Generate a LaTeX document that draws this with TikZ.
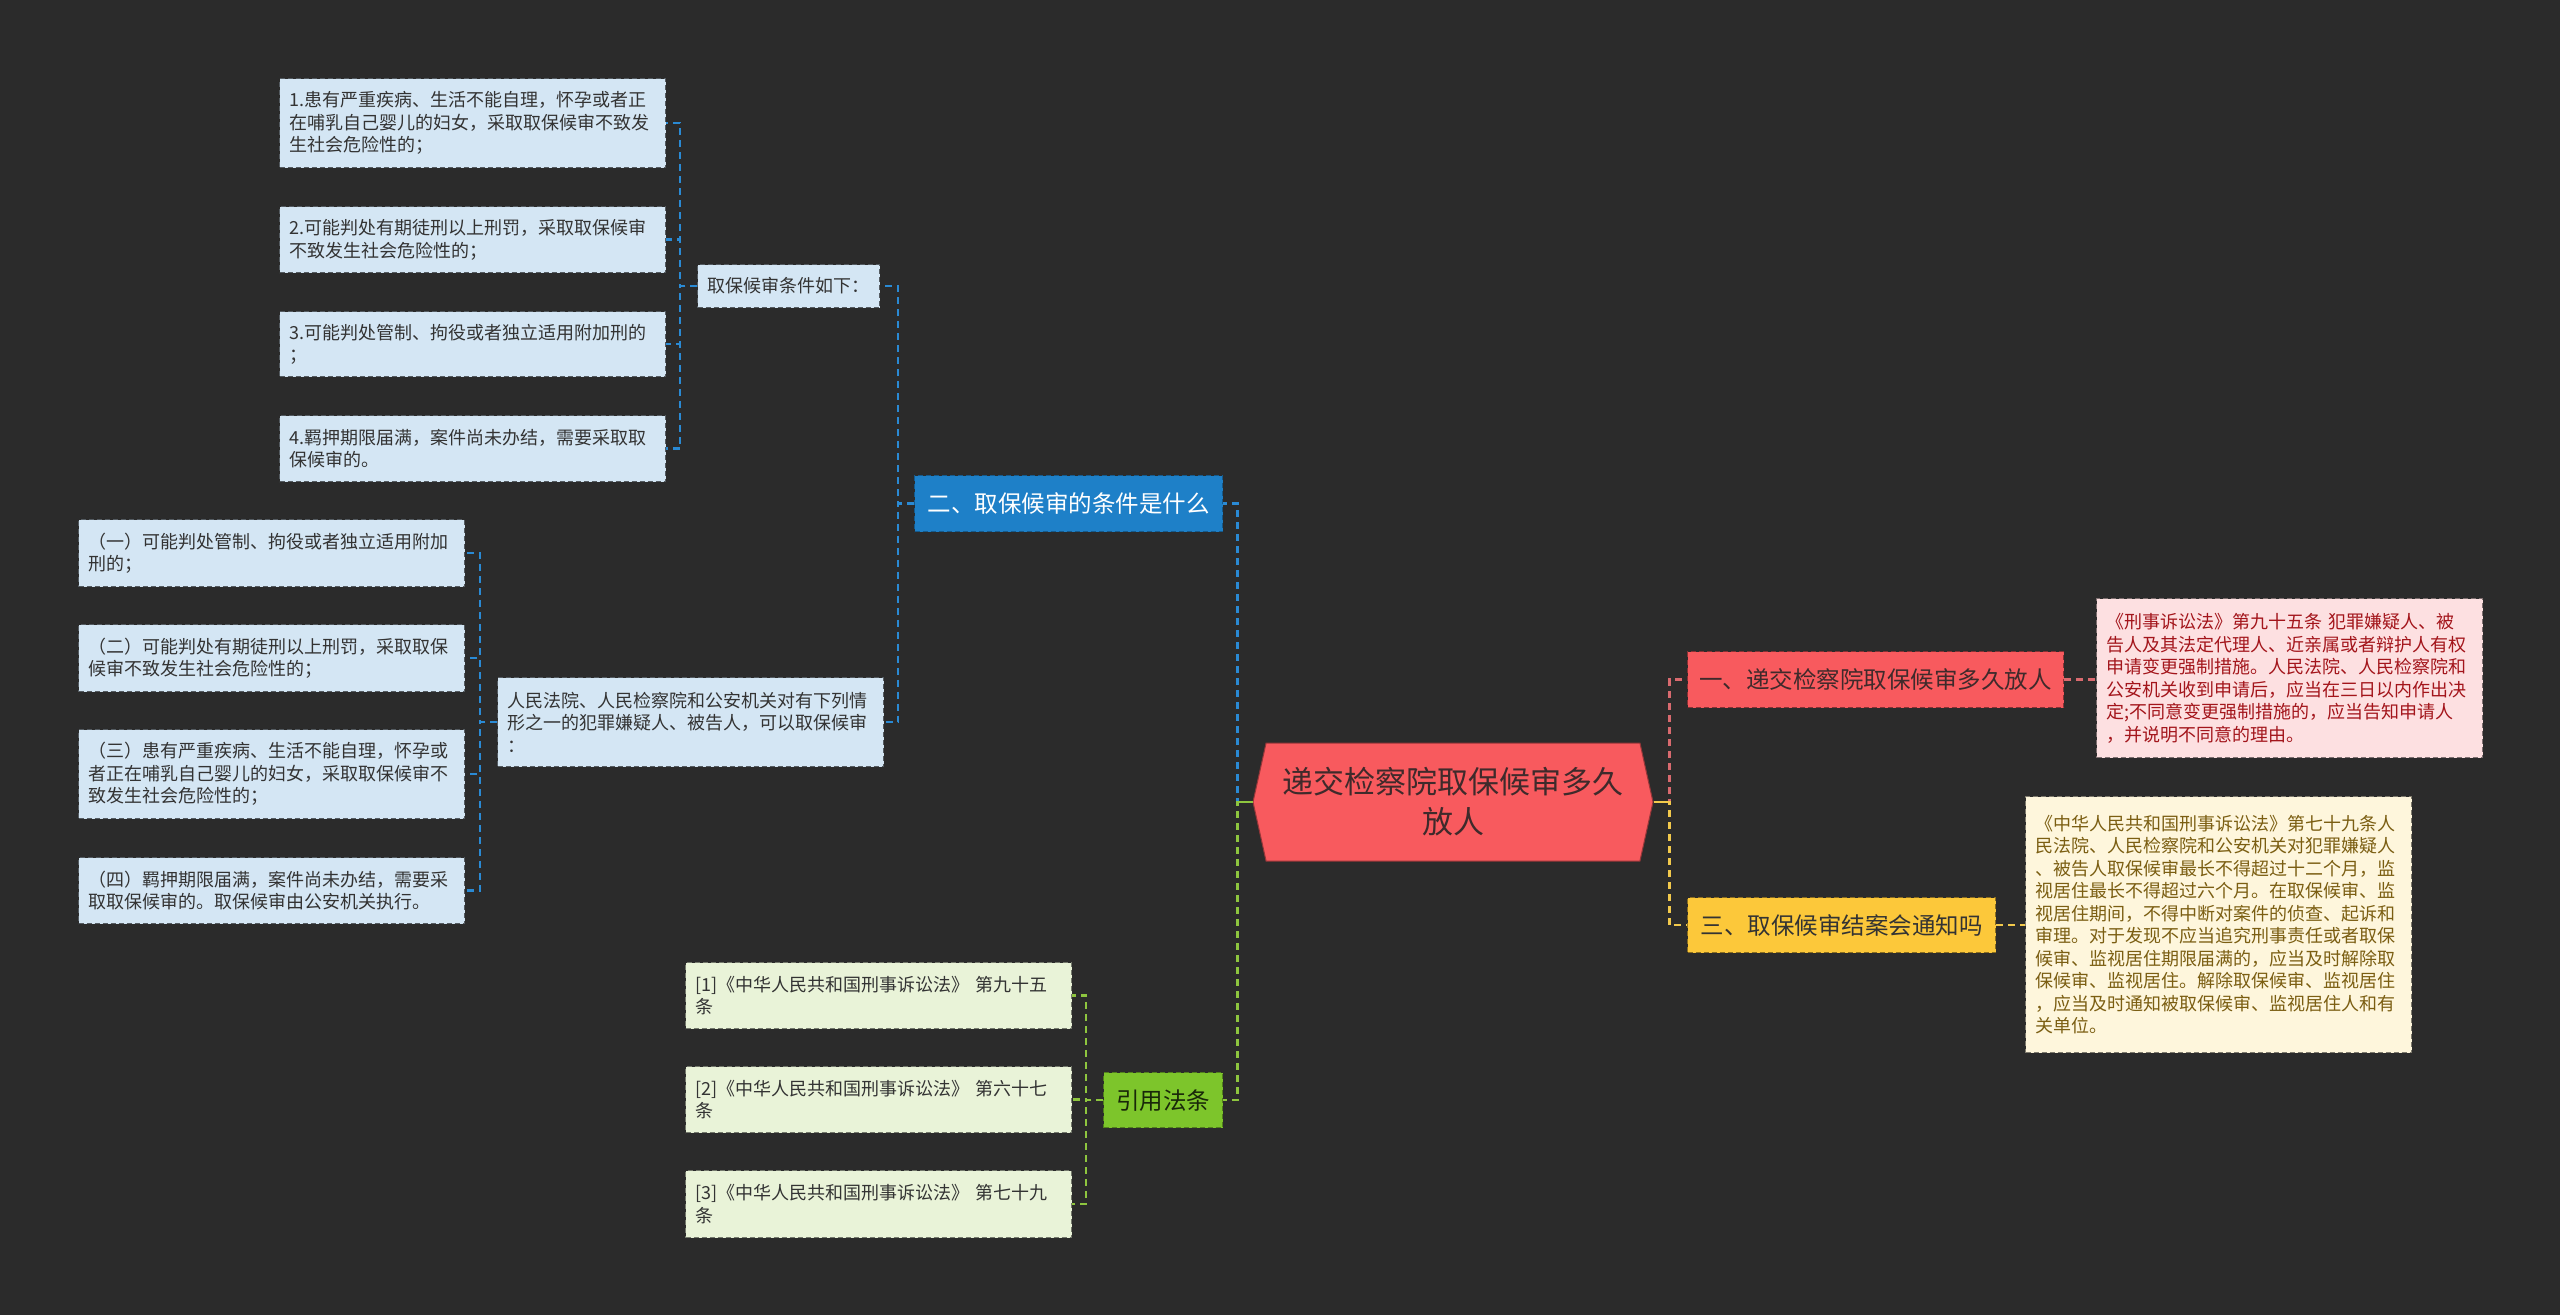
\documentclass[tikz,border=0pt]{standalone}
\usepackage{fontspec}
\setmainfont{Noto Sans CJK SC}
\usepackage{xcolor}
\usepackage{tikz}
\usetikzlibrary{shapes.symbols, positioning}

\definecolor{bgdark}{HTML}{2B2B2B}
\definecolor{rootred}{HTML}{F85A5E}
\definecolor{roottext}{HTML}{3F2A2B}
\definecolor{bluefill}{HTML}{1E80C8}
\definecolor{bluepale}{HTML}{D4E6F4}
\definecolor{blueline}{HTML}{2A8AD4}
\definecolor{redpale}{HTML}{FDE0E1}
\definecolor{redline}{HTML}{D96A6F}
\definecolor{redtext}{HTML}{A3151B}
\definecolor{yelfill}{HTML}{FCC83A}
\definecolor{yelpale}{HTML}{FEF6DC}
\definecolor{yelline}{HTML}{F2C94C}
\definecolor{yeltext}{HTML}{7B5E12}
\definecolor{grnfill}{HTML}{7DC52B}
\definecolor{grnpale}{HTML}{E9F3D8}
\definecolor{grnline}{HTML}{8EC63F}

\begin{document}
\begin{tikzpicture}[x=1pt, y=-1pt,
    detail/.style={draw, dash pattern=on 5pt off 3pt, line width=1.2pt, anchor=north west,
                   text width=366pt, inner xsep=10pt, inner ysep=0pt, align=left,
                   font=\fontsize{18pt}{22.5pt}\selectfont},
    bluebox/.style={detail, fill=bluepale, draw=black!60!bluepale, text=black!80},
    redbox/.style={detail, fill=redpale, draw=black!50!redpale, text=redtext},
    yelbox/.style={detail, fill=yelpale, draw=black!50!yelpale, text=yeltext},
    grnbox/.style={detail, fill=grnpale, draw=black!50!grnpale, text=black!80},
    topic/.style={draw, dash pattern=on 5pt off 3pt, line width=1.2pt, anchor=north west,
                  minimum height=55pt, inner sep=0pt, align=center,
                  font=\fontsize{23.5pt}{28pt}\selectfont},
    root/.style={signal, signal to=west and east, signal pointer angle=155,
                 fill=rootred, draw=black!40!rootred, line width=1pt,
                 minimum width=400pt, minimum height=118pt, align=center,
                 text=roottext, font=\fontsize{31pt}{40pt}\selectfont},
    link/.style={line width=2.5pt, dash pattern=on 7pt off 5pt},
    bl/.style={link, draw=blueline},
    rl/.style={link, draw=redline},
    yl/.style={link, draw=yelline},
    gl/.style={link, draw=grnline}
  ]
    \fill[bgdark] (0,0) rectangle (2560,1315);

    \node[root] (root) at (1453,802) {递交检察院取保候审多久\\放人};

    \node[topic, fill=bluefill, draw=black!30!bluefill, text=white, minimum width=308pt, minimum height=56pt]
      (why) at (914,475) {二、取保候审的条件是什么};
    \node[topic, fill=rootred, draw=black!45!rootred, text=roottext, minimum width=376pt, minimum height=56pt]
      (howlong) at (1687,651) {一、递交检察院取保候审多久放人};
    \node[topic, fill=yelfill, draw=black!45!yelfill, text=black!80] (notify)
      at (1687,897) {\hspace{13pt}三、取保候审结案会通知吗\hspace{13pt}};
    \node[topic, fill=grnfill, draw=black!35!grnfill, text=black!80!grnfill, minimum width=119pt]
      (laws) at (1103,1072) {引用法条};

    \node[bluebox, text width=162pt, minimum height=43pt] (cond) at (697,264) {取保候审条件如下：};
    \node[bluebox, minimum height=89pt] (cond1) at (279,78)
      {1.患有严重疾病、生活不能自理，怀孕或者正\\在哺乳自己婴儿的妇女，采取取保候审不致发\\生社会危险性的；};
    \node[bluebox, minimum height=66pt] (cond2) at (279,206)
      {2.可能判处有期徒刑以上刑罚，采取取保候审\\不致发生社会危险性的；};
    \node[bluebox, minimum height=65pt] (cond3) at (279,311)
      {3.可能判处管制、拘役或者独立适用附加刑的\\；};
    \node[bluebox, minimum height=66pt] (cond4) at (279,415)
      {4.羁押期限届满，案件尚未办结，需要采取取\\保候审的。};

    \node[bluebox, minimum height=89pt] (court) at (497,677)
      {人民法院、人民检察院和公安机关对有下列情\\形之一的犯罪嫌疑人、被告人，可以取保候审\\：};
    \node[bluebox, minimum height=67pt] (case1) at (78,519)
      {（一）可能判处管制、拘役或者独立适用附加\\刑的；};
    \node[bluebox, minimum height=67pt] (case2) at (78,624)
      {（二）可能判处有期徒刑以上刑罚，采取取保\\候审不致发生社会危险性的；};
    \node[bluebox, minimum height=89pt] (case3) at (78,729)
      {（三）患有严重疾病、生活不能自理，怀孕或\\者正在哺乳自己婴儿的妇女，采取取保候审不\\致发生社会危险性的；};
    \node[bluebox, minimum height=66pt] (case4) at (78,857)
      {（四）羁押期限届满，案件尚未办结，需要采\\取取保候审的。取保候审由公安机关执行。};

    \node[grnbox, minimum height=66pt] (ref1) at (685,962)
      {[1]《中华人民共和国刑事诉讼法》 第九十五\\条};
    \node[grnbox, minimum height=66pt] (ref2) at (685,1066)
      {[2]《中华人民共和国刑事诉讼法》 第六十七\\条};
    \node[grnbox, minimum height=67pt] (ref3) at (685,1170)
      {[3]《中华人民共和国刑事诉讼法》 第七十九\\条};

    \node[redbox, minimum height=159pt] (art95) at (2096,598)
      {《刑事诉讼法》第九十五条 犯罪嫌疑人、被\\告人及其法定代理人、近亲属或者辩护人有权\\申请变更强制措施。人民法院、人民检察院和\\公安机关收到申请后，应当在三日以内作出决\\定;不同意变更强制措施的，应当告知申请人\\，并说明不同意的理由。};
    \node[yelbox, minimum height=256pt] (art79) at (2025,796)
      {《中华人民共和国刑事诉讼法》第七十九条人\\民法院、人民检察院和公安机关对犯罪嫌疑人\\、被告人取保候审最长不得超过十二个月，监\\视居住最长不得超过六个月。在取保候审、监\\视居住期间，不得中断对案件的侦查、起诉和\\审理。对于发现不应当追究刑事责任或者取保\\候审、监视居住期限届满的，应当及时解除取\\保候审、监视居住。解除取保候审、监视居住\\，应当及时通知被取保候审、监视居住人和有\\关单位。};

    \draw[bl] (root.west) -- ++(-15,0) |- (why.east);
    \draw[gl] (root.west) -- ++(-15,0) |- (laws.east);
    \draw[rl] (root.east) -- ++(16,0) |- (howlong.west);
    \draw[yl] (root.east) -- ++(16,0) |- (notify.west);
    \draw[line width=2.5pt, grnline] (root.west) -- ++(-15,0);
    \draw[line width=2.5pt, yelline] (root.east) -- ++(16,0);

    \draw[bl] (why.west) -- ++(-16,0) |- (cond.east);
    \draw[bl] (why.west) -- ++(-16,0) |- (court.east);
    \foreach \c in {cond1,cond2,cond3,cond4}
      \draw[bl] (cond.west) -- ++(-17,0) |- (\c.east);
    \foreach \c in {case1,case2,case3,case4}
      \draw[bl] (court.west) -- ++(-17,0) |- (\c.east);
    \foreach \c in {ref1,ref2,ref3}
      \draw[gl] (laws.west) -- ++(-17,0) |- (\c.east);

    \draw[rl] (howlong.east) -- (art95.west |- howlong.east);
    \draw[yl] (notify.east) -- (art79.west |- notify.east);
  \end{tikzpicture}
\end{document}
